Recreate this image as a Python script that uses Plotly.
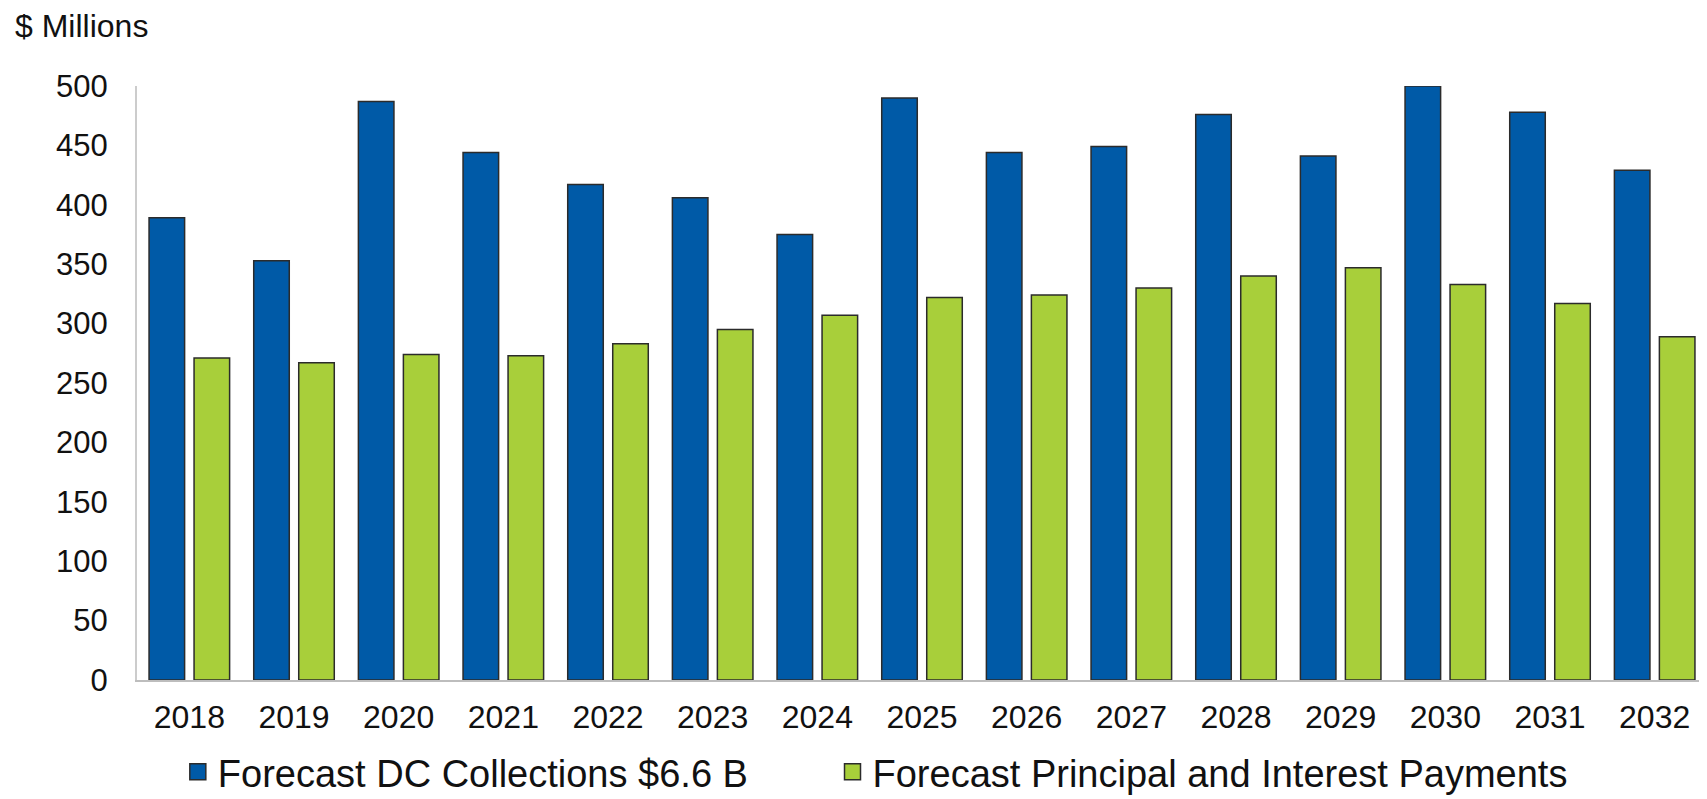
import plotly.graph_objects as go

# Forecast values, $ millions
years = ["2018", "2019", "2020", "2021", "2022", "2023", "2024", "2025",
         "2026", "2027", "2028", "2029", "2030", "2031", "2032"]
dc_collections = [389, 353, 487, 444, 417, 406, 375, 490,
                  444, 449, 476, 441, 500, 478, 429]
principal_interest = [271, 267, 274, 273, 283, 295, 307, 322,
                      324, 330, 340, 347, 333, 317, 289]

series_names = ["Forecast DC Collections $6.6 B",
                "Forecast Principal and Interest Payments"]

BLUE = "#005AA7"
GREEN = "#A8CF3A"
OUTLINE = "#2b2b2b"
FONT = "Liberation Sans, Arial, sans-serif"

# the page body adds an 8px margin, so the figure is sized to fit inside it
W, H = 1699, 791

fig = go.Figure()

for name, vals, color in zip(series_names,
                             [dc_collections, principal_interest],
                             [BLUE, GREEN]):
    fig.add_trace(go.Bar(
        x=years, y=vals, name=name,
        marker=dict(color=color, line=dict(color=OUTLINE, width=1.5)),
        showlegend=False,
    ))

# legend entries with bigger square swatches than the bar default,
# one per legend so the two items can be spaced like the original
for name, color, leg in zip(series_names, [BLUE, GREEN], ["legend", "legend2"]):
    fig.add_trace(go.Scatter(
        x=[None], y=[None], mode="markers", name=name, legend=leg,
        marker=dict(symbol="square", size=16, color=color,
                    line=dict(color=OUTLINE, width=1.5)),
    ))

legend_style = dict(
    orientation="h", y=-0.102, yanchor="top", xanchor="left",
    font=dict(size=38, family=FONT, color="#111"),
    bgcolor="rgba(0,0,0,0)",
)

fig.update_layout(
    width=W, height=H,
    barmode="group", bargap=0.14, bargroupgap=0.21,
    plot_bgcolor="white", paper_bgcolor="white",
    font=dict(family=FONT, color="#111", size=31),
    margin=dict(l=129, r=0, t=78, b=119, autoexpand=False),
    title=dict(text="$ Millions", xref="container", yref="container",
               x=7 / W, y=1 - 18 / H, xanchor="left", yanchor="middle",
               font=dict(size=32, family=FONT, color="#111")),
    xaxis=dict(
        showgrid=False, showline=True, linecolor="#bdbdbd", linewidth=2,
        ticks="", ticklabelstandoff=8, tickfont=dict(size=32),
        automargin=False,
    ),
    yaxis=dict(
        range=[0, 500], dtick=50, showgrid=False, zeroline=False,
        showline=True, linecolor="#cccccc", linewidth=2,
        ticks="", ticklabelstandoff=21, tickfont=dict(size=31),
        automargin=False,
    ),
    legend=dict(legend_style, x=0.026),
    legend2=dict(legend_style, x=0.443),
)

fig.write_html("out.html")
